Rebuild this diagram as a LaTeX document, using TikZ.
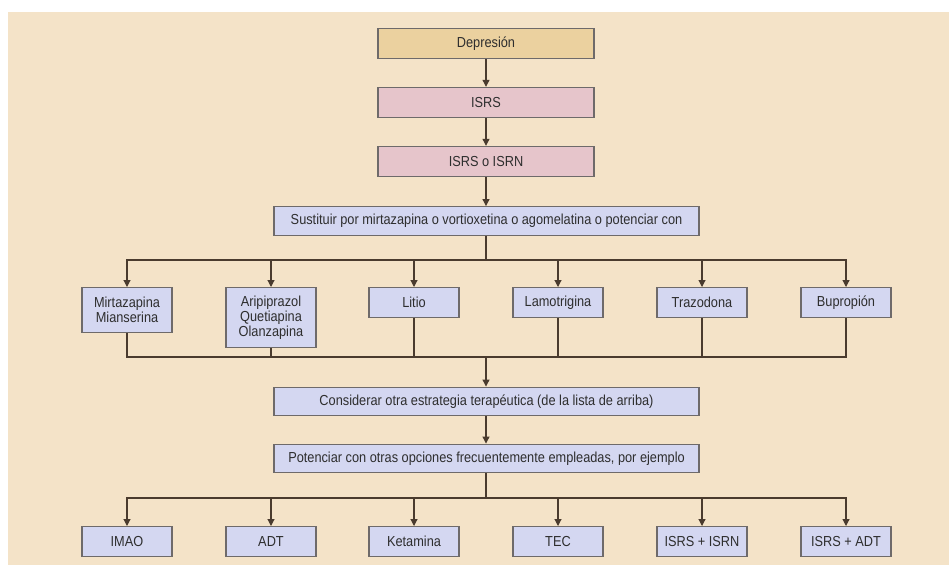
\documentclass[tikz,border=0pt]{standalone}
\usepackage{fontspec}
\setmainfont[FakeStretch=0.88]{Liberation Sans}
\usetikzlibrary{arrows.meta}
\definecolor{bgbeige}{HTML}{F4E3C8}
\definecolor{deptan}{HTML}{EBD19F}
\definecolor{pinkbox}{HTML}{E6C5CB}
\definecolor{lilac}{HTML}{D4D7F1}
\definecolor{boxline}{HTML}{6E6A6A}
\definecolor{wire}{HTML}{4A3B2E}
\definecolor{ink}{HTML}{2E2E2E}
\tikzset{
	box/.style={draw=boxline, line width=1.4pt, text=ink, font=\fontsize{14.5}{15}\selectfont, align=center, inner sep=0pt},
	topbox/.style={box, minimum width=216pt, minimum height=30pt},
	widebox/.style={box, fill=lilac, minimum width=425pt, minimum height=28.5pt},
	drug/.style={box, fill=lilac, anchor=north, minimum width=90pt, minimum height=30pt},
	wired/.style={draw=wire, line width=1.1pt},
	arr/.style={wired, -{Triangle[width=7pt,length=7pt]}}
}
\begin{document}
\begin{tikzpicture}[x=1pt,y=-1pt]
	\useasboundingbox (0,0) rectangle (949,565);
	\fill[bgbeige] (8,12) rectangle (949,565);
	\node[topbox, fill=deptan] (dep) at (486,43.5) {Depresión};
	\node[topbox, fill=pinkbox] (isrs) at (486,102.5) {ISRS};
	\node[topbox, fill=pinkbox] (isrn) at (486,161.5) {ISRS o ISRN};
	\node[widebox] (sust) at (486.5,221) {Sustituir por mirtazapina o vortioxetina o agomelatina o potenciar con};
	\node[drug, minimum height=45pt] (mirt) at (127,287) {Mirtazapina\\Mianserina};
	\node[drug, minimum height=60pt] (arip) at (271,287) {Aripiprazol\\Quetiapina\\Olanzapina};
	\node[drug] (litio) at (414,287) {Litio};
	\node[drug] (lamo) at (558,287) {Lamotrigina};
	\node[drug] (traz) at (702,287) {Trazodona};
	\node[drug] (bupr) at (846,287) {Bupropión};
	\node[widebox] (cons) at (486.5,401.5) {Considerar otra estrategia terapéutica (de la lista de arriba)};
	\node[widebox] (pot) at (486.5,458.5) {Potenciar con otras opciones frecuentemente empleadas, por ejemplo};
	\node[drug] (imao) at (127,526) {IMAO};
	\node[drug] (adt) at (271,526) {ADT};
	\node[drug] (keta) at (414,526) {Ketamina};
	\node[drug] (tec) at (558,526) {TEC};
	\node[drug] (isrsn) at (702,526) {ISRS + ISRN};
	\node[drug] (isrsadt) at (846,526) {ISRS + ADT};
	\coordinate (split) at (486,260);
	\coordinate (join) at (486,357);
	\coordinate (split2) at (486,498);
	\draw[arr] (dep) -- (isrs);
	\draw[arr] (isrs) -- (isrn);
	\draw[arr] (isrn) -- (isrn |- sust.north);
	\draw[wired] (split |- sust.south) -- (split);
	\foreach \n in {mirt,arip,litio,lamo,traz,bupr}
		\draw[arr] (split) -| (\n.north);
	\foreach \n in {mirt,arip,litio,lamo,traz,bupr}
		\draw[wired] (\n.south) |- (join);
	\draw[arr] (join) -- (join |- cons.north);
	\draw[arr] (join |- cons.south) -- (join |- pot.north);
	\draw[wired] (split2 |- pot.south) -- (split2);
	\foreach \n in {imao,adt,keta,tec,isrsn,isrsadt}
		\draw[arr] (split2) -| (\n.north);
\end{tikzpicture}
\end{document}
